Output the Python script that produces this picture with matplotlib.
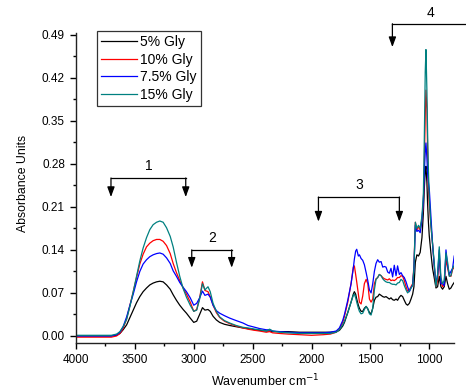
import matplotlib
matplotlib.use("Agg")
import matplotlib.pyplot as plt
from matplotlib.ticker import MultipleLocator, FormatStrFormatter

plt.rcParams['font.family'] = ['Liberation Sans', 'DejaVu Sans']

# wavenumber grid (cm-1)
wavenumber = [
    4000, 3900, 3800, 3700, 3655, 3627, 3600, 3570, 3542, 3514, 3486, 3458, 3430, 3401,
    3373, 3345, 3316, 3288, 3260, 3231, 3200, 3175, 3147, 3119, 3090, 3062, 3030, 3000,
    2975, 2950, 2926, 2905, 2879, 2860, 2836, 2808, 2780, 2740, 2695, 2640, 2582, 2540,
    2480, 2441, 2384, 2356, 2330, 2271, 2200, 2100, 2000, 1900, 1840, 1790, 1763, 1735,
    1720, 1692, 1664, 1645, 1636, 1625, 1616, 1602, 1593, 1579, 1565, 1551, 1536, 1522,
    1508, 1494, 1480, 1466, 1452, 1438, 1424, 1409, 1395, 1381, 1367, 1353, 1339, 1325,
    1311, 1297, 1282, 1269, 1254, 1240, 1226, 1212, 1197, 1184, 1169, 1155, 1141, 1130,
    1118, 1105, 1091, 1077, 1062, 1050, 1042, 1034, 1028, 1020, 1014, 1007, 1000, 986,
    972, 958, 943, 929, 915, 901, 887, 873, 858, 844, 830, 816, 802, 788,
]

gly_5 = [
    0.000, 0.000, 0.000, 0.000, 0.001, 0.004, 0.010, 0.018, 0.030, 0.042, 0.054, 0.064, 0.072, 0.078,
    0.083, 0.086, 0.088, 0.089, 0.088, 0.083, 0.076, 0.067, 0.058, 0.050, 0.043, 0.037, 0.029, 0.022,
    0.024, 0.035, 0.046, 0.042, 0.043, 0.040, 0.032, 0.026, 0.022, 0.019, 0.017, 0.015, 0.013, 0.012,
    0.010, 0.009, 0.008, 0.008, 0.007, 0.007, 0.007, 0.006, 0.006, 0.006, 0.006, 0.007, 0.009, 0.016,
    0.022, 0.038, 0.055, 0.068, 0.072, 0.068, 0.060, 0.050, 0.045, 0.040, 0.040, 0.045, 0.048, 0.044,
    0.038, 0.036, 0.045, 0.058, 0.063, 0.064, 0.068, 0.066, 0.064, 0.063, 0.064, 0.062, 0.060, 0.062,
    0.059, 0.058, 0.060, 0.058, 0.063, 0.066, 0.064, 0.058, 0.052, 0.050, 0.053, 0.060, 0.068, 0.080,
    0.120, 0.132, 0.130, 0.136, 0.160, 0.200, 0.240, 0.268, 0.276, 0.250, 0.215, 0.185, 0.163, 0.135,
    0.110, 0.095, 0.078, 0.080, 0.097, 0.080, 0.076, 0.080, 0.097, 0.085, 0.076, 0.078, 0.083, 0.087,
]

gly_10 = [
    -0.002, -0.002, -0.002, -0.002, 0.000, 0.004, 0.012, 0.028, 0.050, 0.072, 0.095, 0.117, 0.133, 0.145,
    0.151, 0.155, 0.157, 0.157, 0.154, 0.147, 0.134, 0.118, 0.103, 0.090, 0.078, 0.068, 0.055, 0.040,
    0.043, 0.062, 0.088, 0.074, 0.072, 0.064, 0.050, 0.038, 0.030, 0.024, 0.020, 0.016, 0.013, 0.011,
    0.009, 0.008, 0.006, 0.007, 0.005, 0.004, 0.003, 0.002, 0.001, 0.002, 0.003, 0.006, 0.011, 0.022,
    0.032, 0.055, 0.085, 0.112, 0.114, 0.100, 0.088, 0.068, 0.055, 0.052, 0.065, 0.085, 0.092, 0.085,
    0.060, 0.055, 0.060, 0.085, 0.093, 0.095, 0.100, 0.098, 0.095, 0.093, 0.092, 0.091, 0.093, 0.090,
    0.091, 0.090, 0.092, 0.095, 0.095, 0.098, 0.097, 0.090, 0.080, 0.073, 0.075, 0.080, 0.085, 0.115,
    0.185, 0.172, 0.178, 0.172, 0.190, 0.215, 0.280, 0.360, 0.400, 0.370, 0.300, 0.240, 0.214, 0.180,
    0.150, 0.115, 0.080, 0.090, 0.130, 0.090, 0.080, 0.085, 0.125, 0.110, 0.098, 0.097, 0.108, 0.112,
]

gly_7_5 = [
    0.000, 0.000, 0.000, 0.000, 0.002, 0.006, 0.015, 0.031, 0.050, 0.068, 0.088, 0.105, 0.117, 0.124,
    0.129, 0.132, 0.134, 0.135, 0.133, 0.127, 0.118, 0.106, 0.097, 0.087, 0.079, 0.072, 0.062, 0.050,
    0.053, 0.062, 0.073, 0.066, 0.068, 0.063, 0.050, 0.041, 0.037, 0.033, 0.029, 0.025, 0.021, 0.017,
    0.014, 0.012, 0.010, 0.010, 0.008, 0.007, 0.006, 0.005, 0.005, 0.005, 0.006, 0.008, 0.013, 0.025,
    0.035, 0.058, 0.085, 0.110, 0.125, 0.138, 0.141, 0.130, 0.132, 0.126, 0.123, 0.116, 0.103, 0.090,
    0.075, 0.070, 0.085, 0.105, 0.118, 0.124, 0.120, 0.121, 0.112, 0.113, 0.112, 0.104, 0.102, 0.110,
    0.096, 0.115, 0.098, 0.114, 0.100, 0.103, 0.098, 0.095, 0.088, 0.080, 0.072, 0.078, 0.083, 0.110,
    0.180, 0.170, 0.172, 0.168, 0.190, 0.220, 0.265, 0.300, 0.314, 0.290, 0.265, 0.250, 0.240, 0.195,
    0.150, 0.115, 0.085, 0.100, 0.140, 0.085, 0.085, 0.082, 0.140, 0.115, 0.100, 0.105, 0.110, 0.130,
]

gly_15 = [
    0.001, 0.001, 0.001, 0.001, 0.003, 0.007, 0.015, 0.027, 0.048, 0.072, 0.097, 0.122, 0.143, 0.160,
    0.173, 0.181, 0.185, 0.187, 0.185, 0.176, 0.162, 0.145, 0.120, 0.097, 0.077, 0.063, 0.050, 0.040,
    0.042, 0.060, 0.085, 0.075, 0.080, 0.072, 0.053, 0.040, 0.031, 0.025, 0.021, 0.017, 0.014, 0.013,
    0.011, 0.010, 0.008, 0.011, 0.008, 0.006, 0.005, 0.004, 0.004, 0.004, 0.004, 0.006, 0.010, 0.018,
    0.024, 0.038, 0.055, 0.066, 0.068, 0.062, 0.055, 0.045, 0.040, 0.036, 0.037, 0.043, 0.048, 0.044,
    0.036, 0.034, 0.045, 0.075, 0.092, 0.095, 0.100, 0.098, 0.093, 0.090, 0.088, 0.087, 0.087, 0.085,
    0.084, 0.084, 0.083, 0.086, 0.087, 0.092, 0.090, 0.082, 0.075, 0.070, 0.073, 0.078, 0.082, 0.110,
    0.185, 0.175, 0.180, 0.175, 0.195, 0.230, 0.320, 0.430, 0.466, 0.400, 0.330, 0.270, 0.225, 0.180,
    0.150, 0.120, 0.080, 0.100, 0.145, 0.095, 0.085, 0.090, 0.135, 0.120, 0.097, 0.098, 0.110, 0.115,
]

series_labels = ['5% Gly', '10% Gly', '7.5% Gly', '15% Gly']
series_colors = ['black', 'red', 'blue', '#008080']

# brackets: label, left wn, right wn, bar height, arrow tip
brackets = [
    ('1', 3703, 3068, 0.257, 0.226),
    ('2', 3017, 2678, 0.140, 0.111),
    ('3', 1941, 1254, 0.226, 0.186),
]

fig = plt.figure(figsize=(4.66, 3.88), dpi=100)
ax = fig.add_axes([0.1631, 0.1168, 0.8111, 0.7982])

for ys, label, color in zip([gly_5, gly_10, gly_7_5, gly_15], series_labels, series_colors):
    ax.plot(wavenumber, ys, color=color, lw=0.9, label=label)

ax.set_xlim(4000, 790)
ax.set_ylim(-0.011, 0.493)
ax.xaxis.set_major_locator(MultipleLocator(500))
ax.xaxis.set_minor_locator(MultipleLocator(250))
ax.yaxis.set_major_locator(MultipleLocator(0.07))
ax.yaxis.set_minor_locator(MultipleLocator(0.035))
ax.yaxis.set_major_formatter(FormatStrFormatter('%.2f'))

for side in ['top', 'right']:
    ax.spines[side].set_visible(False)
for side in ['left', 'bottom']:
    ax.spines[side].set_linewidth(1.0)
    ax.spines[side].set_color('#222222')

ax.tick_params(which='major', direction='out', length=4, width=1, labelsize=8.5, pad=4)
ax.tick_params(which='minor', direction='out', length=2.5, width=1)

ax.set_xlabel('Wavenumber cm$^{-1}$', fontsize=9, labelpad=5)
ax.set_ylabel('Absorbance Units', fontsize=8.8, labelpad=9, y=0.513)

arrow_kw = dict(arrowstyle='-|>,head_length=0.6,head_width=0.22', color='black',
                lw=0.9, mutation_scale=10, shrinkA=0, shrinkB=0)

for label, x1, x2, ybar, ytip in brackets:
    ax.plot([x1, x2], [ybar, ybar], color='black', lw=0.9)
    for xx in (x1, x2):
        ax.annotate('', xy=(xx, ytip), xytext=(xx, ybar), arrowprops=arrow_kw)
    ax.text((x1 + x2) / 2, ybar + 0.008, label, ha='center', va='bottom', fontsize=10)

# bracket 4 sits above the axes and runs off to the right edge
ax.plot([1313, 695], [0.508, 0.508], color='black', lw=0.9, clip_on=False)
ax.annotate('', xy=(1313, 0.470), xytext=(1313, 0.508), arrowprops=arrow_kw,
            annotation_clip=False)
ax.text(991, 0.514, '4', ha='center', va='bottom', fontsize=10, clip_on=False)

leg = ax.legend(loc='upper left', bbox_to_anchor=(97 / 466, 1 - 31 / 388),
                bbox_transform=fig.transFigure, fontsize=10, frameon=True,
                fancybox=False, handlelength=2.6, handletextpad=0.2,
                labelspacing=0.25, borderpad=0.3, borderaxespad=0)
leg.get_frame().set_edgecolor('black')
leg.get_frame().set_linewidth(0.9)

plt.savefig('out.png', dpi=100)
plt.close()
